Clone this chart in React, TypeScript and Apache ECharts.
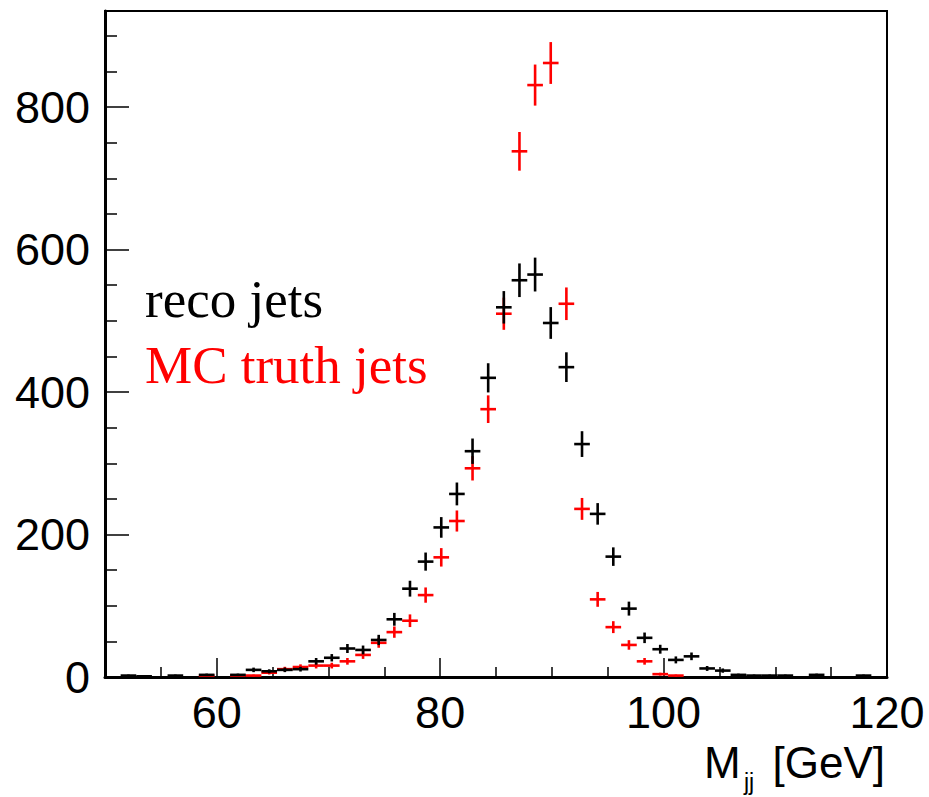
import React, { useEffect, useRef } from "react";
import * as echarts from "echarts";

// Histogram binning: 50 bins from 50 to 120 GeV
const binLow = 50;
const binWidth = 1.4;

// Reco jets (black) bin contents
const recoJets = [
  0, 2, 1, 0, 2, 0, 3, 0, 3, 10,
  8, 10, 11, 22, 27, 40, 38, 52, 81, 124,
  162, 210, 257, 317, 420, 519, 557, 565, 497, 435,
  327, 229, 169, 96, 55, 39, 24, 29, 12, 9,
  3, 2, 2, 2, 0, 3, 0, 0, 2, 0,
];

// MC truth jets (red) bin contents
const truthJets = [
  0, 0, 0, 0, 0, 0, 2, 0, 2, 2,
  6, 11, 14, 16, 16, 22, 31, 48, 63, 79,
  115, 168, 219, 293, 376, 510, 738, 831, 862, 524,
  236, 109, 70, 45, 22, 4, 2, 0, 0, 0,
  0, 0, 0, 0, 0, 0, 0, 0, 0, 0,
];

const xMajorTicks = [60, 80, 100, 120];
const xMinorTicks = [55, 65, 70, 75, 85, 90, 95, 105, 110, 115];
const yMajorTicks = [0, 200, 400, 600, 800];
const yMinorTicks = [50, 100, 150, 250, 300, 350, 450, 500, 550, 650, 700, 750, 850, 900];

const legendLabels = ["reco jets", "MC truth jets"];
const legendColors = ["#000000", "#ff0000"];

function toPoints(values: number[]) {
  const out: number[][] = [];
  values.forEach((v, i) => {
    if (v > 0) out.push([binLow + binWidth * (i + 0.5), v, Math.sqrt(v)]);
  });
  return out;
}

function makeRender(color: string) {
  return (params: any, api: any) => {
    const c = api.value(0);
    const v = api.value(1);
    const e = api.value(2);
    const pL = api.coord([c - binWidth / 2, v]);
    const pR = api.coord([c + binWidth / 2, v]);
    const pT = api.coord([c, v + e]);
    const pB = api.coord([c, Math.max(0, v - e)]);
    const style = { stroke: color, lineWidth: 2.6 };
    return {
      type: "group",
      children: [
        { type: "line", shape: { x1: pL[0], y1: pL[1], x2: pR[0], y2: pR[1] }, style },
        { type: "line", shape: { x1: pT[0], y1: pT[1], x2: pB[0], y2: pB[1] }, style },
      ],
    };
  };
}

export default function App() {
  const ref = useRef<HTMLDivElement>(null);
  useEffect(() => {
    if (!ref.current) return;
    const chart = echarts.init(ref.current, undefined, { renderer: "svg" });
    const sans = "Liberation Sans, Arial, Helvetica, sans-serif";
    const serif = "Liberation Serif, Times New Roman, serif";
    chart.setOption({
      animation: false,
      backgroundColor: "#ffffff",
      grid: {
        left: 105,
        top: 11,
        right: 42,
        bottom: 120,
        show: true,
        borderColor: "#000",
        borderWidth: 2,
        backgroundColor: "#fff",
      },
      xAxis: [
        {
          type: "value",
          min: 50,
          max: 120,
          position: "bottom",
          axisLine: { show: true, lineStyle: { color: "#000", width: 3 } },
          axisTick: {
            show: true,
            inside: true,
            length: 19,
            customValues: xMajorTicks,
            lineStyle: { color: "#000", width: 1.5 },
          },
          axisLabel: {
            show: true,
            customValues: xMajorTicks,
            fontSize: 45,
            fontFamily: sans,
            color: "#000",
            margin: 13,
          },
          splitLine: { show: false },
        },
        {
          type: "value",
          min: 50,
          max: 120,
          position: "bottom",
          axisLine: { show: false },
          axisTick: {
            show: true,
            inside: true,
            length: 10,
            customValues: xMinorTicks,
            lineStyle: { color: "#000", width: 1.5 },
          },
          axisLabel: { show: false },
          splitLine: { show: false },
        },
      ],
      yAxis: [
        {
          type: "value",
          min: 0,
          max: 935,
          position: "left",
          axisLine: { show: true, lineStyle: { color: "#000", width: 3 } },
          axisTick: {
            show: true,
            inside: true,
            length: 24,
            customValues: yMajorTicks,
            lineStyle: { color: "#000", width: 1.5 },
          },
          axisLabel: {
            show: true,
            customValues: yMajorTicks,
            fontSize: 45,
            fontFamily: sans,
            color: "#000",
            margin: 15,
          },
          splitLine: { show: false },
        },
        {
          type: "value",
          min: 0,
          max: 935,
          position: "left",
          axisLine: { show: false },
          axisTick: {
            show: true,
            inside: true,
            length: 12,
            customValues: yMinorTicks,
            lineStyle: { color: "#000", width: 1.5 },
          },
          axisLabel: { show: false },
          splitLine: { show: false },
        },
      ],
      series: [
        {
          type: "custom",
          name: legendLabels[1],
          xAxisIndex: 0,
          yAxisIndex: 0,
          data: toPoints(truthJets),
          encode: { x: 0, y: 1 },
          renderItem: makeRender(legendColors[1]),
          z: 3,
        },
        {
          type: "custom",
          name: legendLabels[0],
          xAxisIndex: 0,
          yAxisIndex: 0,
          data: toPoints(recoJets),
          encode: { x: 0, y: 1 },
          renderItem: makeRender(legendColors[0]),
          z: 4,
        },
      ],
      graphic: [
        {
          type: "text",
          left: 145,
          top: 272,
          style: { text: legendLabels[0], fill: legendColors[0], font: `53px ${serif}` },
          z: 10,
        },
        {
          type: "text",
          left: 145,
          top: 338,
          style: { text: legendLabels[1], fill: legendColors[1], font: `53px ${serif}` },
          z: 10,
        },
        {
          type: "text",
          x: 704,
          y: 762,
          style: { text: "M", fill: "#000", font: `44px ${sans}`, align: "left", verticalAlign: "middle" },
        },
        {
          type: "text",
          x: 744,
          y: 782,
          style: { text: "jj", fill: "#000", font: `23px ${sans}`, align: "left", verticalAlign: "middle" },
        },
        {
          type: "text",
          x: 885,
          y: 762,
          style: { text: "[GeV]", fill: "#000", font: `44px ${sans}`, align: "right", verticalAlign: "middle" },
        },
      ],
    });
    return () => chart.dispose();
  }, []);
  return (
    <div
      ref={ref}
      style={{ position: "fixed", left: 0, top: 0, width: 929, height: 797, background: "#fff" }}
    />
  );
}
